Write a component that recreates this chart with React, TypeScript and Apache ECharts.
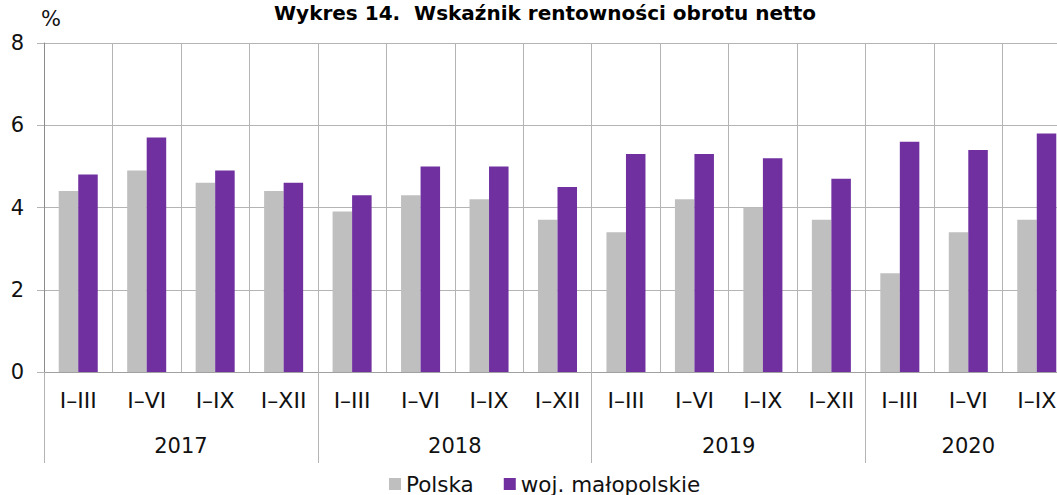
import React, { useEffect, useRef } from "react";
import * as echarts from "echarts";

const quarters = ["I–III", "I–VI", "I–IX", "I–XII", "I–III", "I–VI", "I–IX", "I–XII", "I–III", "I–VI", "I–IX", "I–XII", "I–III", "I–VI", "I–IX"];
const years = ["2017", "2018", "2019", "2020"];
const yearCenters = [2, 6, 10, 13.5];
const polska = [4.4, 4.9, 4.6, 4.4, 3.9, 4.3, 4.2, 3.7, 3.4, 4.2, 4.0, 3.7, 2.4, 3.4, 3.7];
const malopolskie = [4.8, 5.7, 4.9, 4.6, 4.3, 5.0, 5.0, 4.5, 5.3, 5.3, 5.2, 4.7, 5.6, 5.4, 5.8];
const yTicks = { min: 0, max: 8, interval: 2 };

const FONT = "DejaVu Sans";
const GRID = "#B4B4B4";

export default function App() {
  const ref = useRef<HTMLDivElement>(null);
  useEffect(() => {
    if (!ref.current) return;
    const chart = echarts.init(ref.current, null, { renderer: "svg" });
    chart.setOption({
      animation: false,
      textStyle: { fontFamily: FONT, color: "#000" },
      title: {
        text: "Wykres 14.  Wskaźnik rentowności obrotu netto",
        left: 545,
        textAlign: "center",
        top: 2,
        padding: 0,
        textStyle: { fontFamily: FONT, fontSize: 20, fontWeight: "bold", color: "#000", lineHeight: 22 },
      },
      legend: {
        left: 389,
        top: 473,
        padding: 0,
        itemWidth: 12,
        itemHeight: 12,
        itemGap: 30,
        icon: "rect",
        textStyle: { fontFamily: FONT, fontSize: 21.5, color: "#111" },
        data: ["Polska", "woj. małopolskie"],
      },
      grid: { left: 44, top: 43, right: 9, bottom: 123, containLabel: false },
      xAxis: [
        {
          type: "category",
          data: quarters,
          boundaryGap: true,
          axisLine: { show: true, lineStyle: { color: "#A0A0A0", width: 1 } },
          axisTick: { show: false },
          axisLabel: { fontSize: 22, color: "#111", margin: 17, interval: 0, fontFamily: FONT },
          splitLine: { show: true, interval: 0, lineStyle: { color: GRID, width: 1 } },
        },
        {
          type: "category",
          data: quarters,
          position: "bottom",
          boundaryGap: true,
          axisLine: { show: false },
          axisLabel: { show: false },
          axisTick: {
            show: true,
            length: 91,
            interval: (i: number) => i % 4 === 0,
            lineStyle: { color: GRID, width: 1 },
          },
          splitLine: { show: false },
        },
        {
          type: "value",
          min: 0,
          max: quarters.length,
          interval: 0.5,
          position: "bottom",
          axisLine: { show: false },
          axisTick: { show: false },
          splitLine: { show: false },
          axisLabel: {
            fontSize: 21,
            color: "#111",
            margin: 63,
            fontFamily: FONT,
            formatter: (v: number) => {
              const k = yearCenters.indexOf(v);
              return k >= 0 ? years[k] : "";
            },
          },
        },
      ],
      yAxis: {
        type: "value",
        min: yTicks.min,
        max: yTicks.max,
        interval: yTicks.interval,
        name: "%",
        nameLocation: "end",
        nameGap: 14,
        nameTextStyle: { fontSize: 21, color: "#111", align: "left", padding: [0, 0, 0, -3], fontFamily: FONT },
        axisLine: { show: true, lineStyle: { color: "#8C8C8C", width: 1 } },
        axisTick: { show: true, length: 7, lineStyle: { color: GRID } },
        axisLabel: { fontSize: 21, color: "#111", margin: 20, fontFamily: FONT },
        splitLine: { show: true, lineStyle: { color: GRID, width: 1 } },
      },
      series: [
        {
          name: "Polska",
          type: "bar",
          xAxisIndex: 0,
          data: polska,
          barGap: "0%",
          barCategoryGap: "43%",
          itemStyle: { color: "#BFBFBF" },
        },
        {
          name: "woj. małopolskie",
          type: "bar",
          xAxisIndex: 0,
          data: malopolskie,
          barGap: "0%",
          barCategoryGap: "43%",
          itemStyle: { color: "#7030A0" },
        },
      ],
    });
    return () => chart.dispose();
  }, []);
  return (
    <div
      ref={ref}
      style={{ position: "fixed", left: 0, top: 0, width: 1080, height: 495, background: "#fff" }}
    />
  );
}
